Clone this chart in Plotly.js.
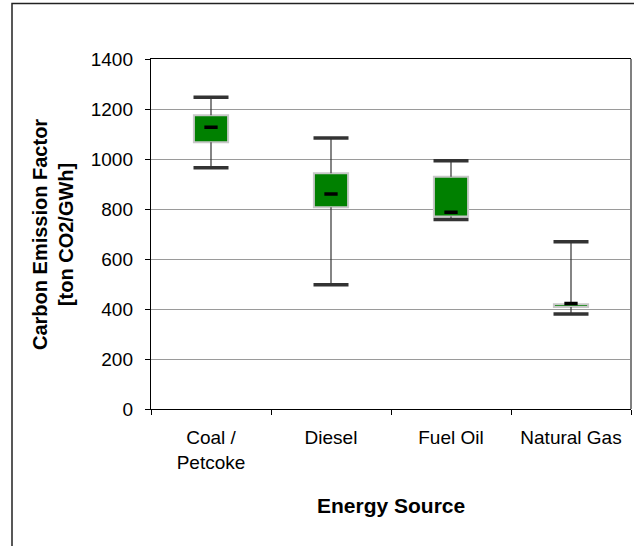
<!DOCTYPE html>
<html>
<head>
<meta charset="utf-8">
<script src="https://cdn.plot.ly/plotly-3.0.1.min.js"></script>
<style>
  html, body { margin: 0; padding: 0; background: #ffffff; }
  #chart { width: 634px; height: 546px; }
</style>
</head>
<body>
<div id="chart"></div>
<script>
// ---- Data ----
var categories = ["Coal /<br>Petcoke", "Diesel", "Fuel Oil", "Natural Gas"];
var minValues    = [965, 497, 758, 380];
var q1Values     = [1067, 807, 770, 408];
var medianValues = [1127, 860, 787, 422];
var q3Values     = [1175, 943, 929, 419];
var maxValues    = [1247, 1084, 993, 669];
var yTickValues  = [0, 200, 400, 600, 800, 1000, 1200, 1400];
var xTitle = "Energy Source";
var yTitle = "Carbon Emission Factor<br>[ton CO2/GWh]";

// ---- Build traces from the data ----
var whiskX = [], whiskY = [];
for (var i = 0; i < categories.length; i++) {
  whiskX.push(categories[i], categories[i], null, categories[i], categories[i], null);
  whiskY.push(minValues[i], q1Values[i], null, q3Values[i], maxValues[i], null);
}
var capX = [], capY = [];
for (var j = 0; j < categories.length; j++) {
  capX.push(categories[j], categories[j]);
  capY.push(minValues[j], maxValues[j]);
}
var boxHeights = q3Values.map(function (v, k) { return v - q1Values[k]; });

var traces = [
  {
    type: "bar",
    x: categories,
    y: boxHeights,
    base: q1Values,
    width: 0.285,
    marker: { color: "#008000", line: { color: "#c8c8c8", width: 2 } },
    hoverinfo: "skip",
    showlegend: false
  },
  {
    type: "scatter",
    mode: "lines",
    x: whiskX,
    y: whiskY,
    line: { color: "#333333", width: 1.2 },
    hoverinfo: "skip",
    showlegend: false,
    connectgaps: false
  },
  {
    type: "scatter",
    mode: "markers",
    x: capX,
    y: capY,
    marker: { symbol: "line-ew", size: 25, line: { color: "#333333", width: 3.5 } },
    hoverinfo: "skip",
    showlegend: false
  },
  {
    type: "scatter",
    mode: "markers",
    x: categories,
    y: medianValues,
    marker: { symbol: "line-ew", size: 9.5, line: { color: "#000000", width: 3.5 } },
    hoverinfo: "skip",
    showlegend: false
  }
];

// plot area: x 151..631, y 59..409 in the 634x546 page
var L = 151, R = 631, T = 59, B = 409;
function px(x) { return (x - L) / (R - L); }
function py(y) { return (B - y) / (B - T); }

var layout = {
  width: 634,
  height: 546,
  margin: { l: L, r: 634 - R, t: T, b: 546 - B, pad: 0 },
  paper_bgcolor: "#ffffff",
  plot_bgcolor: "#ffffff",
  font: { family: "Arial, 'Liberation Sans', sans-serif", color: "#000000", size: 19 },
  bargap: 0,
  xaxis: {
    type: "category",
    categoryorder: "array",
    categoryarray: categories,
    range: [-0.5, categories.length - 0.5],
    showgrid: false,
    showline: true,
    linecolor: "#000000",
    linewidth: 1.2,
    mirror: true,
    ticks: "outside",
    tickson: "boundaries",
    ticklen: 5,
    tickcolor: "#000000",
    tickwidth: 1,
    tickfont: { size: 19, color: "#000000" },
    ticklabelstandoff: 11,
    automargin: false,
    fixedrange: true
  },
  yaxis: {
    range: [0, 1400],
    autorange: false,
    tickvals: yTickValues,
    ticktext: yTickValues.map(String),
    showgrid: true,
    gridcolor: "#9a9a9a",
    gridwidth: 1,
    zeroline: false,
    showline: true,
    linecolor: "#000000",
    linewidth: 1.2,
    ticks: "outside",
    ticklen: 5,
    tickcolor: "#000000",
    tickwidth: 1,
    tickfont: { size: 19, color: "#000000" },
    ticklabelstandoff: 8,
    automargin: false,
    fixedrange: true
  },
  annotations: [
    { text: "<b>" + xTitle + "</b>", xref: "paper", yref: "paper",
      x: px(391), y: py(505), xanchor: "center", yanchor: "middle",
      showarrow: false, font: { size: 21, color: "#000000" } },
    { text: "<b>" + yTitle + "</b>", xref: "paper", yref: "paper",
      x: px(53), y: py(235), xanchor: "center", yanchor: "middle",
      textangle: -90, showarrow: false,
      font: { size: 20, color: "#000000" } }
  ],
  shapes: [
    // right border of plot area (gray)
    { type: "line", xref: "paper", yref: "paper", x0: 1, x1: 1, y0: 0, y1: 1,
      line: { color: "#808080", width: 2 } },
    // outer chart border
    { type: "rect", xref: "paper", yref: "paper",
      x0: px(12), x1: px(660), y0: py(3.5), y1: py(580),
      line: { color: "#222222", width: 1.5 }, fillcolor: "rgba(0,0,0,0)", layer: "above" }
  ],
  showlegend: false
};

Plotly.newPlot("chart", traces, layout, { displayModeBar: false, staticPlot: true });
</script>
</body>
</html>
